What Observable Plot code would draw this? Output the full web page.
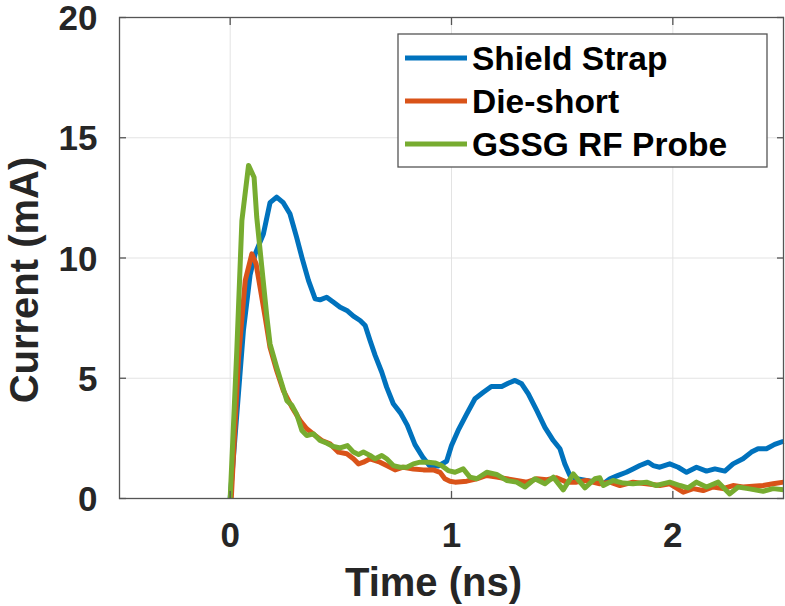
<!DOCTYPE html>
<html>
<head>
<meta charset="utf-8">
<script src="https://cdn.jsdelivr.net/npm/d3@7"></script>
<script src="https://cdn.jsdelivr.net/npm/@observablehq/plot@0.6"></script>
<style>
  html, body { margin: 0; padding: 0; background: #fff; }
  #chart svg { display: block; }
</style>
</head>
<body>
<div id="chart"></div>
<script>
// Series names and their colours (MATLAB default line order)
const seriesNames = ["Shield Strap", "Die-short", "GSSG RF Probe"];
const seriesColors = ["#0072BD", "#D95319", "#77AC30"];

// Axis ticks
const xTicks = [0, 1, 2];
const yTicks = [0, 5, 10, 15, 20];
const xDomain = [-0.5, 2.5];
const yDomain = [0, 20];

// Shield Strap: time (ns) and current (mA)
const shieldTime = [0, 0.03, 0.06, 0.09, 0.113, 0.15, 0.18, 0.21, 0.24, 0.27, 0.30, 0.324, 0.354, 0.384, 0.406, 0.436, 0.467, 0.497, 0.527, 0.557, 0.587, 0.61, 0.632, 0.655, 0.685, 0.707, 0.737, 0.77, 0.80, 0.835, 0.87, 0.90, 0.94, 0.978, 1.0, 1.03, 1.069, 1.106, 1.144, 1.18, 1.227, 1.256, 1.287, 1.317, 1.347, 1.385, 1.422, 1.46, 1.49, 1.512, 1.535, 1.565, 1.61, 1.656, 1.686, 1.716, 1.753, 1.79, 1.82, 1.851, 1.889, 1.911, 1.941, 1.986, 2.024, 2.062, 2.107, 2.152, 2.19, 2.235, 2.272, 2.317, 2.355, 2.385, 2.423, 2.46, 2.5];
const shieldCurrent = [0, 3.5, 7.0, 9.3, 10.17, 11.0, 12.3, 12.53, 12.3, 11.84, 10.87, 10.03, 9.06, 8.30, 8.26, 8.37, 8.16, 7.95, 7.82, 7.58, 7.40, 7.19, 6.57, 5.95, 5.25, 4.63, 3.94, 3.55, 3.05, 2.24, 1.72, 1.37, 1.35, 1.55, 2.2, 2.83, 3.52, 4.15, 4.42, 4.66, 4.66, 4.79, 4.91, 4.77, 4.35, 3.66, 2.96, 2.41, 2.07, 1.44, 0.96, 0.82, 0.75, 0.68, 0.61, 0.82, 0.96, 1.09, 1.23, 1.37, 1.51, 1.37, 1.30, 1.44, 1.30, 1.09, 1.30, 1.14, 1.23, 1.14, 1.44, 1.65, 1.93, 2.07, 2.07, 2.25, 2.38];

// Die-short
const dieTime = [0.005, 0.038, 0.068, 0.098, 0.117, 0.135, 0.158, 0.18, 0.21, 0.24, 0.279, 0.316, 0.346, 0.384, 0.414, 0.451, 0.489, 0.527, 0.557, 0.58, 0.602, 0.632, 0.677, 0.707, 0.745, 0.782, 0.828, 0.873, 0.918, 0.948, 0.97, 0.993, 1.016, 1.069, 1.114, 1.159, 1.204, 1.249, 1.294, 1.34, 1.385, 1.43, 1.475, 1.52, 1.565, 1.61, 1.67, 1.716, 1.761, 1.82, 1.88, 1.941, 1.986, 2.047, 2.092, 2.137, 2.182, 2.227, 2.272, 2.317, 2.362, 2.408, 2.453, 2.5];
const dieCurrent = [0, 5.88, 9.06, 10.17, 9.76, 8.79, 7.54, 6.29, 5.32, 4.49, 3.8, 3.24, 2.90, 2.62, 2.41, 2.27, 1.93, 1.86, 1.65, 1.44, 1.51, 1.65, 1.51, 1.37, 1.19, 1.30, 1.23, 1.19, 1.19, 1.09, 0.82, 0.72, 0.68, 0.72, 0.82, 0.96, 0.89, 0.82, 0.75, 0.68, 0.82, 0.78, 0.86, 0.68, 0.68, 0.75, 0.61, 0.68, 0.54, 0.68, 0.61, 0.54, 0.61, 0.26, 0.41, 0.33, 0.48, 0.41, 0.54, 0.48, 0.51, 0.54, 0.61, 0.68];

// GSSG RF Probe
const gssgTime = [0, 0.03, 0.053, 0.083, 0.108, 0.12, 0.143, 0.166, 0.18, 0.21, 0.233, 0.256, 0.279, 0.30, 0.324, 0.346, 0.376, 0.406, 0.437, 0.466, 0.497, 0.53, 0.557, 0.58, 0.602, 0.632, 0.655, 0.685, 0.707, 0.737, 0.767, 0.798, 0.828, 0.858, 0.895, 0.925, 0.955, 0.985, 1.016, 1.053, 1.083, 1.114, 1.159, 1.204, 1.249, 1.294, 1.332, 1.377, 1.422, 1.46, 1.505, 1.55, 1.603, 1.648, 1.67, 1.686, 1.73, 1.776, 1.82, 1.881, 1.926, 1.986, 2.032, 2.069, 2.107, 2.152, 2.205, 2.257, 2.295, 2.34, 2.408, 2.453, 2.5];
const gssgCurrent = [0, 6.15, 11.56, 13.85, 13.36, 11.7, 9.62, 7.54, 6.43, 5.46, 4.77, 4.07, 3.87, 3.52, 2.83, 2.62, 2.69, 2.41, 2.3, 2.16, 2.1, 2.2, 1.93, 1.83, 1.93, 1.79, 1.65, 1.79, 1.65, 1.37, 1.30, 1.30, 1.44, 1.51, 1.51, 1.48, 1.37, 1.16, 1.09, 1.23, 0.89, 0.82, 1.09, 1.0, 0.75, 0.68, 0.48, 0.82, 0.61, 0.89, 0.36, 1.02, 0.44, 0.82, 0.86, 0.54, 0.75, 0.64, 0.61, 0.68, 0.54, 0.68, 0.54, 0.44, 0.68, 0.48, 0.68, 0.19, 0.48, 0.41, 0.30, 0.41, 0.36];

const seriesTimes = [shieldTime, dieTime, gssgTime];
const seriesCurrents = [shieldCurrent, dieCurrent, gssgCurrent];

// Long-format table for Plot
const rows = seriesNames.flatMap((name, k) =>
  seriesTimes[k].map((t, i) => ({series: name, time: t, current: seriesCurrents[k][i]}))
);

const W = 785, H = 606;
const margin = {top: 17, right: 2, bottom: 108, left: 119};
const fontFamily = '"Liberation Sans", Arial, Helvetica, sans-serif';
const ink = "#262626";
const axisColor = "#555";
const tickLen = 7;
const intFormat = d3.format("d");

const plot = Plot.plot({
  width: W,
  height: H,
  marginTop: margin.top,
  marginRight: margin.right,
  marginBottom: margin.bottom,
  marginLeft: margin.left,
  style: {fontFamily, fontSize: "35px", fontWeight: "bold", color: ink, background: "#fff"},
  x: {domain: xDomain},
  y: {domain: yDomain},
  color: {domain: seriesNames, range: seriesColors},
  marks: [
    Plot.gridX({ticks: xTicks, stroke: "#e3e3e3", strokeOpacity: 1, strokeWidth: 1}),
    Plot.gridY({ticks: yTicks, stroke: "#e3e3e3", strokeOpacity: 1, strokeWidth: 1}),
    Plot.line(rows, {
      x: "time", y: "current", z: "series", stroke: "series",
      strokeWidth: 5, strokeLinejoin: "round", strokeLinecap: "butt"
    }),
    Plot.frame({stroke: axisColor, strokeWidth: 1.3}),
    // tick labels
    Plot.axisX({ticks: xTicks, tickSize: 0, tickPadding: 24, tickFormat: intFormat, label: null, fill: ink}),
    Plot.axisY({ticks: yTicks, tickSize: 0, tickPadding: 22, tickFormat: intFormat, label: null, fill: ink, dy: 1.5}),
    // inward tick marks on all four sides
    Plot.axisX({ticks: xTicks, anchor: "bottom", tickSize: tickLen, dy: -tickLen, tickFormat: () => "", label: null, stroke: axisColor, strokeWidth: 1.3}),
    Plot.axisX({ticks: xTicks, anchor: "top", tickSize: tickLen, dy: tickLen, tickFormat: () => "", label: null, stroke: axisColor, strokeWidth: 1.3}),
    Plot.axisY({ticks: yTicks, anchor: "left", tickSize: tickLen, dx: tickLen, tickFormat: () => "", label: null, stroke: axisColor, strokeWidth: 1.3}),
    Plot.axisY({ticks: yTicks, anchor: "right", tickSize: tickLen, dx: -tickLen, tickFormat: () => "", label: null, stroke: axisColor, strokeWidth: 1.3}),
    // axis titles
    Plot.text(["Time (ns)"], {
      frameAnchor: "bottom", dx: -18, dy: 69, lineAnchor: "top", textAnchor: "middle",
      fontSize: 40, fontWeight: "bold", fill: ink
    }),
    Plot.text(["Current (mA)"], {
      frameAnchor: "left", rotate: -90, dx: -110, dy: 22, lineAnchor: "top", textAnchor: "middle",
      fontSize: 40, fontWeight: "bold", fill: ink
    })
  ]
});

// Legend box in the upper-right corner of the axes
const color = plot.scale("color");
const svg = d3.select(plot);
const lg = {right: W - margin.right - 16, top: margin.top + 17, width: 369, height: 133, rowGap: 43, firstRow: 24};
const lgLeft = lg.right - lg.width;
const legend = svg.append("g").attr("class", "legend");
legend.append("rect")
  .attr("x", lgLeft).attr("y", lg.top)
  .attr("width", lg.width).attr("height", lg.height)
  .attr("fill", "#fff").attr("stroke", axisColor).attr("stroke-width", 1.3);
color.domain.forEach((name, i) => {
  const cy = lg.top + lg.firstRow + i * lg.rowGap;
  legend.append("line")
    .attr("x1", lgLeft + 7).attr("x2", lgLeft + 69)
    .attr("y1", cy).attr("y2", cy)
    .attr("stroke", color.apply(name)).attr("stroke-width", 5);
  legend.append("text")
    .attr("x", lgLeft + 74).attr("y", cy).attr("dy", "0.35em")
    .attr("text-anchor", "start")
    .attr("font-family", fontFamily).attr("font-size", 33.5).attr("font-weight", "bold")
    .attr("fill", "#000")
    .text(name);
});

document.getElementById("chart").appendChild(plot);
</script>
</body>
</html>
